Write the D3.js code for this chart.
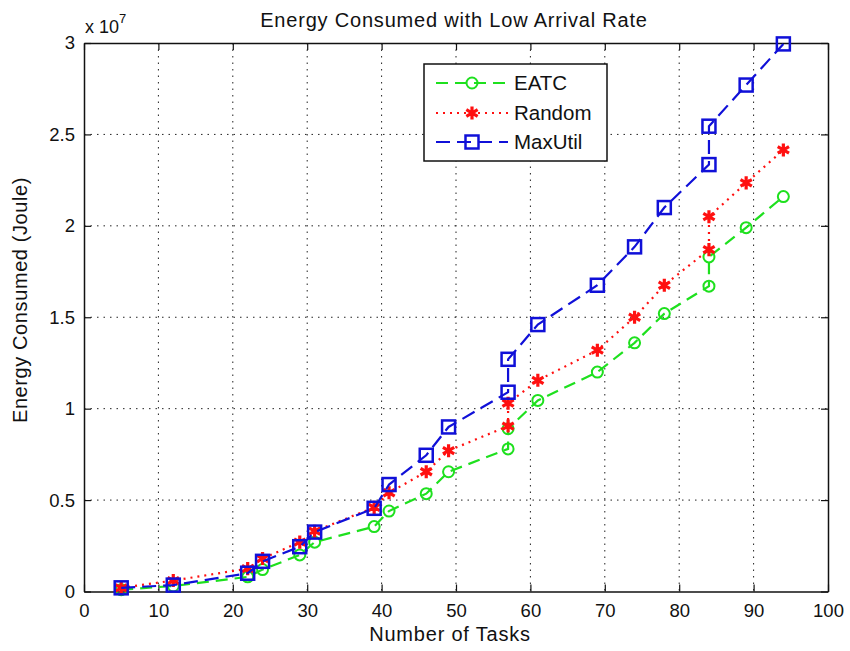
<!DOCTYPE html>
<html>
<head>
<meta charset="utf-8">
<script src="https://cdn.jsdelivr.net/npm/d3@7"></script>
<style>
  html, body { margin: 0; padding: 0; background: #fff; }
  text { font-family: "Liberation Sans", Arial, sans-serif; fill: #111; }
</style>
</head>
<body>
<svg id="chart" width="850" height="651"></svg>
<script>
// ---- data ----
const tasks = [5, 12, 22, 24, 29, 31, 39, 41, 46, 49, 57, 57, 61, 69, 74, 78, 84, 84, 89, 94];
const eatc = [0.01, 0.03, 0.08, 0.12, 0.20, 0.27, 0.355, 0.44, 0.535, 0.655, 0.78, 0.89, 1.045, 1.20, 1.36, 1.52, 1.67, 1.83, 1.99, 2.16];
const random = [0.02, 0.06, 0.125, 0.18, 0.27, 0.33, 0.46, 0.54, 0.655, 0.77, 0.905, 1.03, 1.155, 1.32, 1.50, 1.675, 1.87, 2.05, 2.235, 2.415];
const maxUtil = [0.02, 0.035, 0.10, 0.165, 0.245, 0.325, 0.455, 0.585, 0.745, 0.90, 1.09, 1.27, 1.46, 1.675, 1.885, 2.10, 2.335, 2.545, 2.77, 2.995];
const seriesNames = ["EATC", "Random", "MaxUtil"];
const xTicks = [0, 10, 20, 30, 40, 50, 60, 70, 80, 90, 100];
const yTicks = [0, 0.5, 1, 1.5, 2, 2.5, 3];
const yTickLabels = ["0", "0.5", "1", "1.5", "2", "2.5", "3"];
const titleText = "Energy Consumed with Low Arrival Rate";
const xLabel = "Number of Tasks";
const yLabel = "Energy Consumed (Joule)";

// ---- layout ----
const L = 84, R = 828, T = 43, B = 591.5;
const svg = d3.select("#chart");
svg.append("rect").attr("width", 850).attr("height", 651).attr("fill", "#fff");

const x = d3.scaleLinear().domain([0, 100]).range([L, R]);
const y = d3.scaleLinear().domain([0, 3]).range([B, T]);

// grid
const grid = svg.append("g");
xTicks.slice(1, -1).forEach(t => {
  grid.append("line").attr("x1", x(t)).attr("x2", x(t)).attr("y1", T).attr("y2", B)
    .attr("stroke", "#222").attr("stroke-width", 1).attr("stroke-dasharray", "1.5,5");
});
yTicks.slice(1, -1).forEach(t => {
  grid.append("line").attr("x1", L).attr("x2", R).attr("y1", y(t)).attr("y2", y(t))
    .attr("stroke", "#222").attr("stroke-width", 1).attr("stroke-dasharray", "1.5,5");
});

// axes (MATLAB box style, ticks inward)
const tickLen = 7;
const xAxisB = d3.axisBottom(x).tickValues(xTicks).tickSizeInner(-tickLen).tickSizeOuter(0).tickPadding(12).tickFormat(d3.format("d"));
const xAxisT = d3.axisTop(x).tickValues(xTicks).tickSizeInner(-tickLen).tickSizeOuter(0).tickFormat("");
const yAxisL = d3.axisLeft(y).tickValues(yTicks).tickSizeInner(-tickLen).tickSizeOuter(0).tickPadding(9).tickFormat((d, i) => yTickLabels[i]);
const yAxisR = d3.axisRight(y).tickValues(yTicks).tickSizeInner(-tickLen).tickSizeOuter(0).tickFormat("");

function styleAxis(g) {
  g.selectAll("path.domain").attr("stroke", "#111").attr("stroke-width", 1.5);
  g.selectAll(".tick line").attr("stroke", "#111").attr("stroke-width", 1.2);
  g.selectAll(".tick text").attr("font-size", 18.5).attr("fill", "#222")
    .attr("font-family", "'Liberation Sans', Arial, sans-serif");
}
svg.append("g").attr("transform", `translate(0,${B})`).call(xAxisB).call(styleAxis);
svg.append("g").attr("transform", `translate(0,${T})`).call(xAxisT).call(styleAxis);
svg.append("g").attr("transform", `translate(${L},0)`).call(yAxisL).call(styleAxis);
svg.append("g").attr("transform", `translate(${R},0)`).call(yAxisR).call(styleAxis);

// exponent label
const expo = svg.append("text").attr("x", 85).attr("y", 33).attr("font-size", 18);
expo.append("tspan").text("x 10");
expo.append("tspan").attr("dy", -10).attr("font-size", 13).text("7");

// title and labels
svg.append("text").attr("x", 454).attr("y", 27).attr("text-anchor", "middle")
  .attr("font-size", 20).attr("letter-spacing", 0.8).text(titleText);
svg.append("text").attr("x", 450).attr("y", 641).attr("text-anchor", "middle")
  .attr("font-size", 20).attr("letter-spacing", 0.8).text(xLabel);
svg.append("text").attr("transform", `translate(27,300) rotate(-90)`)
  .attr("text-anchor", "middle").attr("font-size", 20).attr("letter-spacing", 0.6).text(yLabel);

// series
const styles = [
  { values: eatc, color: "#1ee01e", dash: "12,7", marker: "circle" },
  { values: random, color: "#ff1010", dash: "2,5", marker: "star" },
  { values: maxUtil, color: "#1010d8", dash: "14,7", marker: "square" }
];

function drawMarker(g, type, color, cx, cy, scale) {
  const s = scale || 1;
  if (type === "circle") {
    g.append("circle").attr("cx", cx).attr("cy", cy).attr("r", 5.5 * s)
      .attr("fill", "none").attr("stroke", color).attr("stroke-width", 2);
  } else if (type === "square") {
    const h = 6.5 * s;
    g.append("rect").attr("x", cx - h).attr("y", cy - h).attr("width", 2 * h).attr("height", 2 * h)
      .attr("fill", "none").attr("stroke", color).attr("stroke-width", 2.5);
  } else {
    g.append("path").attr("d", d3.symbol().type(d3.symbolAsterisk).size(120 * s)())
      .attr("transform", `translate(${cx},${cy})`)
      .attr("fill", "none").attr("stroke", color).attr("stroke-width", 3.2);
  }
}

const line = d3.line().x(d => x(d[0])).y(d => y(d[1]));
styles.forEach(st => {
  const pts = tasks.map((t, i) => [t, st.values[i]]);
  const g = svg.append("g");
  g.append("path").attr("d", line(pts)).attr("fill", "none").attr("stroke", st.color)
    .attr("stroke-width", 2.2).attr("stroke-dasharray", st.dash);
  pts.forEach(p => drawMarker(g, st.marker, st.color, x(p[0]), y(p[1])));
});

// legend
const lg = svg.append("g");
lg.append("rect").attr("x", 424).attr("y", 64).attr("width", 183).attr("height", 97)
  .attr("fill", "#fff").attr("stroke", "#111").attr("stroke-width", 1.5);
const rowY = [83, 113, 142];
styles.forEach((st, i) => {
  lg.append("line").attr("x1", 436).attr("x2", 508).attr("y1", rowY[i]).attr("y2", rowY[i])
    .attr("stroke", st.color).attr("stroke-width", 2.2).attr("stroke-dasharray", st.dash);
  drawMarker(lg, st.marker, st.color, 472, rowY[i]);
  lg.append("text").attr("x", 514).attr("y", rowY[i] + 7).attr("font-size", 20.5).text(seriesNames[i]);
});
</script>
</body>
</html>
